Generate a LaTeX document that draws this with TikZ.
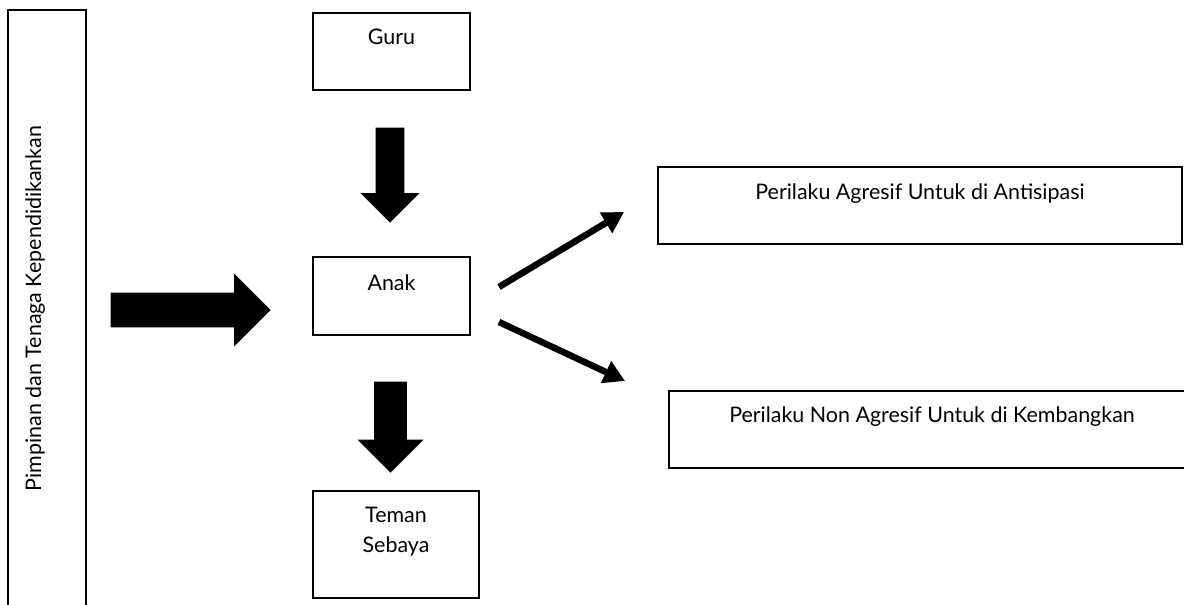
\documentclass[tikz,border=0pt]{standalone}
\usepackage{fontspec}
\setmainfont{Lato}
\usetikzlibrary{positioning,shapes.arrows,arrows.meta}

\tikzset{
  kotak/.style={draw, line width=1.1pt, inner sep=0pt},
  tulisan/.style={inner sep=0pt, align=center, font=\fontsize{12.2}{17}\selectfont},
  panahblok/.style={single arrow, fill=black, draw=none, inner xsep=0pt, anchor=tip},
  panah/.style={line width=3.7pt, -{Triangle[length=12pt,width=13pt]}}
}

\begin{document}
\begin{tikzpicture}[x=0.02cm,y=-0.02cm]
		\useasboundingbox (0,0) rectangle (1184,605);
		% kotak
		\node [kotak,minimum width=1.56cm,minimum height=12.3cm] (pimpinan) at (47,317.5) {};
		\node [kotak,minimum width=3.14cm,minimum height=1.54cm] (guru) at (391.5,51.5) {};
		\node [kotak,minimum width=3.14cm,minimum height=1.56cm] (anak) at (391.5,296) {};
		\node [kotak,minimum width=3.32cm,minimum height=2.14cm] (teman) at (396,544.5) {};
		\node [kotak,minimum width=10.48cm,minimum height=1.54cm] (agresif) at (920,205.5) {};
		\node [kotak,minimum width=10.52cm,minimum height=1.54cm] (nonagresif) at (932,429.5) {};

		% tulisan
		\node [tulisan,rotate=90,anchor=north] (tulisanpimpinan) at (25,308.5) {Pimpinan dan Tenaga Kependidikankan};
		\node [tulisan,below=0.33cm of guru.north] (tulisanguru) {Guru};
		\node [tulisan,below=0.37cm of anak.north] (tulisananak) {Anak};
		\node [tulisan,below=0.33cm of teman.north] (tulisanteman) {Teman\\Sebaya};
		\node [tulisan,below=0.35cm of agresif.north] (tulisanagresif) {Perilaku Agresif Untuk di Antisipasi};
		\node [tulisan,below=0.33cm of nonagresif.north] (tulisannonagresif) {Perilaku Non Agresif Untuk di Kembangkan};

		% panah blok
		\node [panahblok,rotate=-90,minimum height=1.9cm,inner ysep=0.28cm,single arrow head extend=0.3cm] (panahguru) at (390,223) {};
		\node [panahblok,minimum height=3.2cm,inner ysep=0.34cm,single arrow head extend=0.38cm] (panahpimpinan) at (271,310) {};
		\node [panahblok,rotate=-90,minimum height=1.82cm,inner ysep=0.32cm,single arrow head extend=0.33cm] (panahteman) at (390.5,473) {};

		% panah tipis
		\draw [panah] ([shift={(28,-9)}]anak.east) -- ([shift={(-33,6.5)}]agresif.west);
		\draw [panah] ([shift={(28,26)}]anak.east) -- ([shift={(-43,-48.5)}]nonagresif.west);
\end{tikzpicture}
\end{document}
